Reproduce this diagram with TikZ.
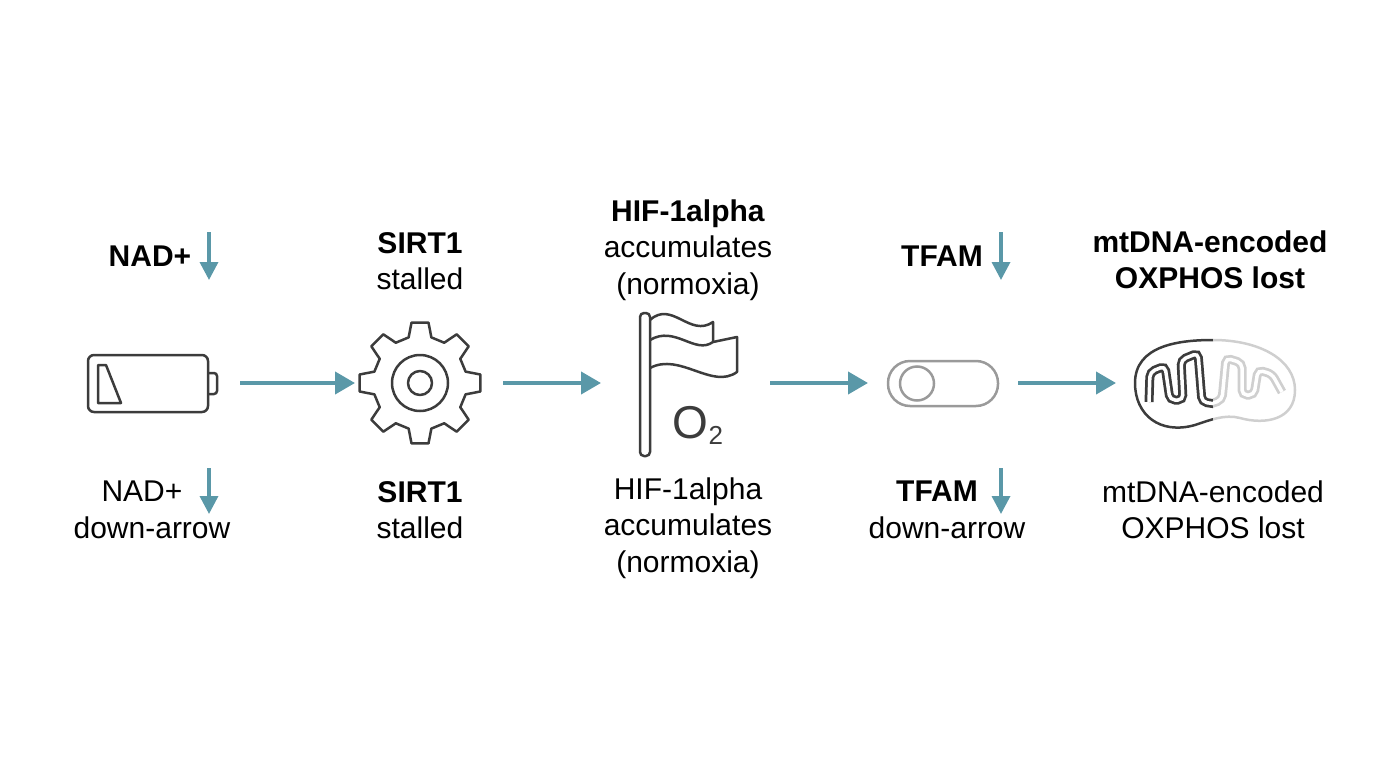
\documentclass[tikz,border=0pt]{standalone}
\usepackage{fontspec}
\setmainfont{Liberation Sans}
\usetikzlibrary{arrows.meta}
\begin{document}
\begin{tikzpicture}[x=1pt,y=-1pt,
  lab/.style={align=center,font=\fontsize{30}{36.5}\selectfont,inner sep=0pt},
  blab/.style={lab,font=\bfseries\fontsize{30}{36.5}\selectfont},
  flow/.style={draw=teal0,line width=4pt,-{Triangle[length=20pt,width=22pt]}},
  dn/.style={draw=teal0,line width=3.5pt,-{Triangle[length=18pt,width=18pt]}},
  icon/.style={draw=dk,line width=2.5pt,line join=round}]
\definecolor{teal0}{HTML}{5A98A8}
\definecolor{dk}{HTML}{3C3C3C}
\definecolor{lg}{HTML}{9A9A9A}
\definecolor{lt}{HTML}{CFCFCF}
\useasboundingbox (0,0) rectangle (1376,768);
% top labels
\node[blab] (t1) at (150,256) {NAD+};
\coordinate (t1a) at (209,232); \coordinate (t1b) at (209,280);
\draw[dn] (t1a) -- (t1b);
\node[lab] (t2) at (420,261) {\textbf{SIRT1}\\stalled};
\node[lab] (t3) at (688,250) {\textbf{HIF-1alpha}\\accumulates\\(normoxia)};
\node[blab] (t4) at (942,256) {TFAM};
\coordinate (t4a) at (1001,232); \coordinate (t4b) at (1001,280);
\draw[dn] (t4a) -- (t4b);
\node[blab] (t5) at (1210,260) {mtDNA-encoded\\OXPHOS lost};
% bottom labels
\node[lab] (b1) at (152,510) {NAD+\phantom{\,\,\,\,}\\down-arrow};
\coordinate (b1a) at (209,468); \coordinate (b1b) at (209,514);
\draw[dn] (b1a) -- (b1b);
\node[lab] (b2) at (420,510) {\textbf{SIRT1}\\stalled};
\node[lab] (b3) at (688,528) {HIF-1alpha\\accumulates\\(normoxia)};
\node[lab] (b4) at (947,510) {\textbf{TFAM}\phantom{\,\,\,\,}\\down-arrow};
\coordinate (b4a) at (1001,468); \coordinate (b4b) at (1001,514);
\draw[dn] (b4a) -- (b4b);
\node[lab] (b5) at (1213,510) {mtDNA-encoded\\OXPHOS lost};
% battery
\draw[icon,rounded corners=6pt] (88,355) rectangle (208,412);
\draw[icon,rounded corners=3pt] (208,373) -- (217,373) -- (217,394) -- (208,394);
\draw[icon] (98,365) -- (106,365) -- (121,403) -- (98,403) -- cycle;
% gear
\begin{scope}[shift={(420,383)}]
\draw[icon] (-14:47) \foreach \a in {0,45,...,315}{ -- (\a-14:47) -- (\a-8:61) -- (\a+8:61) -- (\a+14:47) } -- cycle;
\draw[icon] (0,0) circle (28);
\draw[icon] (0,0) circle (12);
\end{scope}
\coordinate (gearL) at (355,383);
% flag
\draw[icon,rounded corners=4pt] (640,313) rectangle (650,456);
\draw[icon] (650,320) .. controls (672,300) and (690,338) .. (713,322) -- (713,342);
\draw[icon] (713,342) -- (737,337) -- (737,372) .. controls (712,390) and (680,352) .. (650,368);
\draw[icon] (650,340) .. controls (675,325) and (695,355) .. (713,342);
\node[inner sep=0pt,text=dk,font=\fontsize{46}{46}\selectfont] (o2) at (698,425) {O\raisebox{-0.25ex}{\fontsize{26}{26}\selectfont 2}};
% toggle
\draw[draw=lg,line width=2.5pt,rounded corners=22pt] (888,361) rectangle (998,406);
\draw[draw=lg,line width=2.5pt] (917,383.5) circle (17);
\coordinate (togL) at (868,383); \coordinate (togR) at (1018,383);
% mitochondrion
\begin{scope}
\clip (1120,320) rectangle (1213,450);
\draw[icon] (1135,383) .. controls (1135,345) and (1180,340) .. (1213,340) .. controls (1260,340) and (1295,360) .. (1295,390) .. controls (1295,420) and (1265,425) .. (1240,418) .. controls (1225,414) and (1210,420) .. (1195,425) .. controls (1160,435) and (1135,415) .. (1135,383);
\draw[draw=dk,line width=9pt,rounded corners=5pt] (1149,402) -- (1150,372) -- (1165,366) -- (1170,400) -- (1183,400) -- (1181,360) -- (1198,353) -- (1202,402) -- (1216,404);
\draw[draw=white,line width=3.5pt,rounded corners=5pt] (1149,402) -- (1150,372) -- (1165,366) -- (1170,400) -- (1183,400) -- (1181,360) -- (1198,353) -- (1202,402) -- (1216,404);
\end{scope}
\begin{scope}
\clip (1213,320) rectangle (1310,450);
\draw[draw=lt,line width=2.5pt] (1135,383) .. controls (1135,345) and (1180,340) .. (1213,340) .. controls (1260,340) and (1295,360) .. (1295,390) .. controls (1295,420) and (1265,425) .. (1240,418) .. controls (1225,414) and (1210,420) .. (1195,425) .. controls (1160,435) and (1135,415) .. (1135,383);
\draw[draw=lt,line width=9pt,rounded corners=5pt] (1210,404) -- (1222,400) -- (1226,358) -- (1242,363) -- (1242,395) -- (1254,395) -- (1258,370) -- (1272,374) -- (1282,392);
\draw[draw=white,line width=3.5pt,rounded corners=5pt] (1210,404) -- (1222,400) -- (1226,358) -- (1242,363) -- (1242,395) -- (1254,395) -- (1258,370) -- (1272,374) -- (1282,392);
\end{scope}
\coordinate (mitoL) at (1116,383);
% flow arrows
\draw[flow] (240,383) -- (gearL);
\draw[flow] (503,383) -- (601,383);
\draw[flow] (770,383) -- (togL);
\draw[flow] (togR) -- (mitoL);
\end{tikzpicture}
\end{document}
